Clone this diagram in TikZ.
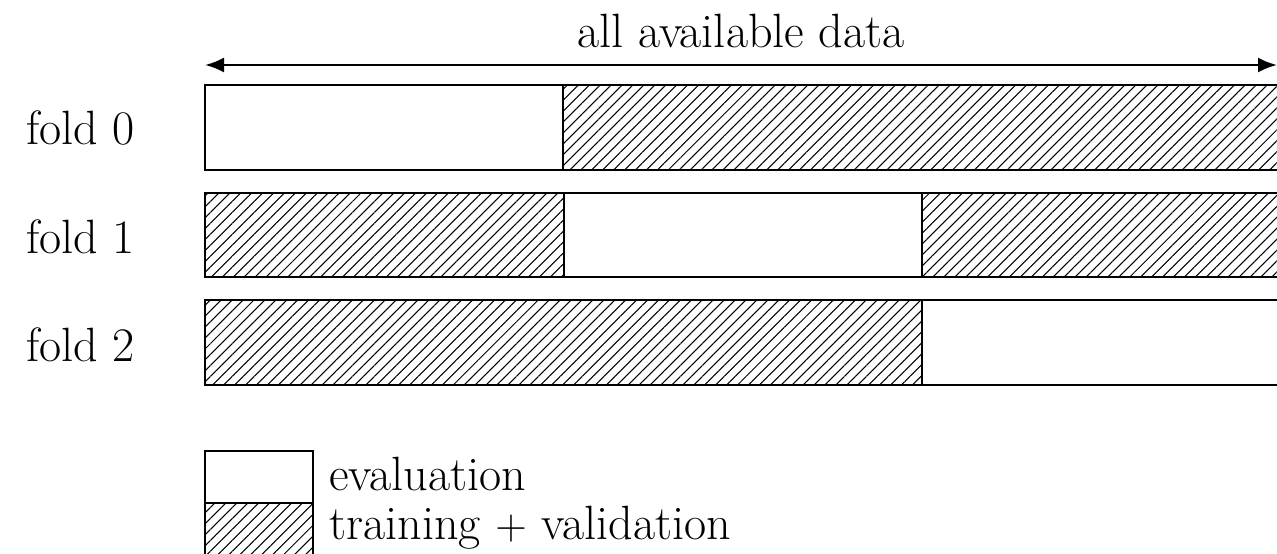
\documentclass[tikz,border=0pt]{standalone}
\usetikzlibrary{arrows.meta,patterns.meta}

\begin{document}
\begin{tikzpicture}[x=0.02cm,y=-0.02cm]
    \tikzstyle{eval}=[draw,line width=0.6pt,fill=white]
    \tikzstyle{train}=[draw,line width=0.6pt,pattern={Lines[angle=45,distance=4.4pt,line width=0.6pt]}]
    \tikzstyle{label}=[font=\fontsize{27.4}{33}\selectfont,inner sep=0pt]
    \useasboundingbox (0,0) rectangle (1277,554);
    % arrow over the whole data
    \coordinate (left) at (205,65);
    \coordinate (right) at (1277,65);
    \draw[line width=1.4pt,{Latex[length=0.38cm,width=0.3cm]}-{Latex[length=0.38cm,width=0.3cm]}] (left) -- (right);
    \node[label,anchor=base] (all) at (741,48) {all available data};
    % fold 0
    \draw[eval] (205,85) rectangle (563,170);
    \draw[train] (563,85) rectangle (1280,170);
    % fold 1
    \draw[train] (205,193) rectangle (564,277);
    \draw[eval] (564,193) rectangle (922,277);
    \draw[train] (922,193) rectangle (1280,277);
    % fold 2
    \draw[train] (205,300) rectangle (922,385);
    \draw[eval] (922,300) rectangle (1280,385);
    % fold names
    \node[label,anchor=base west] (f0) at (26,144) {fold 0};
    \node[label,anchor=base west] (f1) at (26,253) {fold 1};
    \node[label,anchor=base west] (f2) at (26,361) {fold 2};
    % legend
    \draw[eval] (205,451) rectangle (313,503);
    \draw[train] (205,503) rectangle (313,556);
    \node[label,anchor=base west] (ev) at (329,490) {evaluation};
    \node[label,anchor=base west] (tv) at (329,539) {training $+$ validation};
\end{tikzpicture}
\end{document}
